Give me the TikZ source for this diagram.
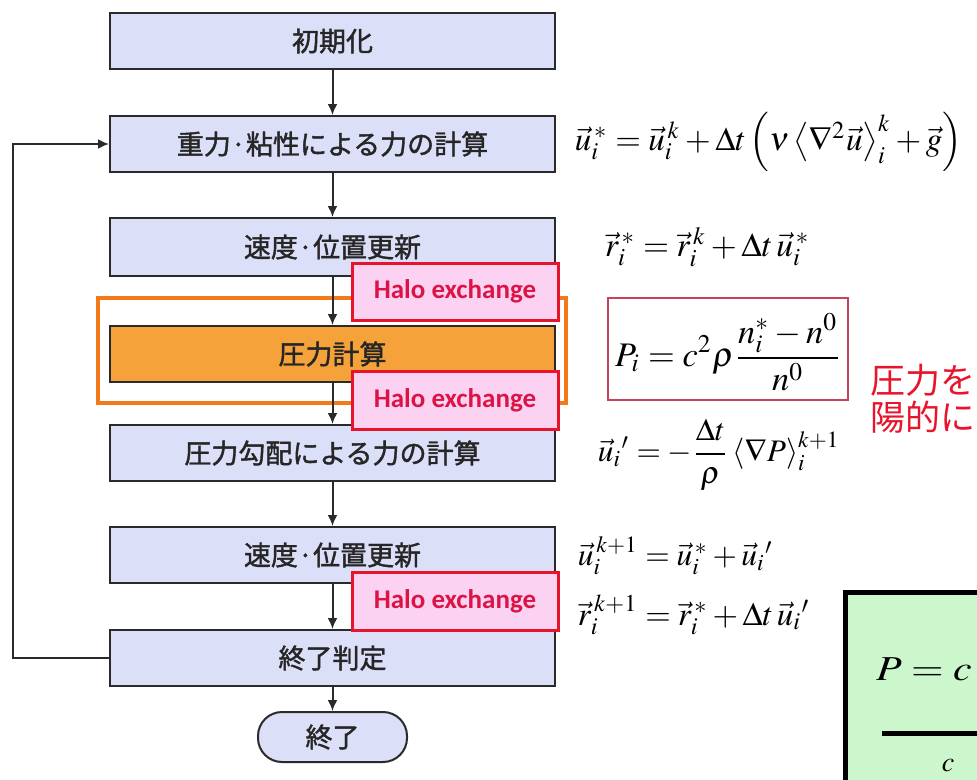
\documentclass[tikz,border=0pt]{standalone}
\usepackage{mathptmx}
\usepackage[no-math]{fontspec}
\usepackage{graphicx}
\usetikzlibrary{arrows.meta}
\newfontfamily\jpfont[FakeBold=1.5]{Noto Sans CJK JP}
\newfontfamily\jpred{Noto Sans CJK JP}
\newfontfamily\halofont[BoldFont=Carlito Bold]{Carlito}
\definecolor{boxfill}{HTML}{DCDFF8}
\definecolor{boxline}{HTML}{2A2A2A}
\definecolor{orfill}{HTML}{F6A23A}
\definecolor{orframe}{HTML}{F27A1A}
\definecolor{halofill}{HTML}{FBD2F2}
\definecolor{haloline}{HTML}{E8142C}
\definecolor{halotext}{HTML}{DC1446}
\definecolor{eqline}{HTML}{C8405A}
\definecolor{redtext}{HTML}{E8142C}
\definecolor{greenfill}{HTML}{CCF6CC}
\tikzset{
  flowbox/.style={draw=boxline, line width=2pt, fill=boxfill, minimum width=445pt, minimum height=56pt, inner sep=0pt, font=\jpfont\fontsize{27}{30}\selectfont, text=black!85},
  orbox/.style={flowbox, fill=orfill},
  halobox/.style={draw=haloline, line width=3pt, fill=halofill, minimum width=206pt, minimum height=57pt, inner sep=0pt, font=\halofont\bfseries\fontsize{27}{30}\selectfont, text=halotext},
  termbox/.style={draw=boxline, line width=2pt, fill=boxfill, minimum width=149pt, minimum height=50pt, rounded corners=24pt, inner sep=0pt, font=\jpfont\fontsize{27}{30}\selectfont, text=black!85},
  conn/.style={draw=boxline, line width=2pt, -{Latex[length=11pt,width=10pt]}},
  eq/.style={inner sep=0pt},
  redlbl/.style={inner sep=0pt, anchor=west, text=redtext, font=\jpred\fontsize{35}{38}\selectfont}
}
\begin{document}
\begin{tikzpicture}[x=1pt,y=-1pt]
\useasboundingbox (0,0) rectangle (977,779);
\clip (0,0) rectangle (977,779);
\fill[white] (0,0) rectangle (977,779);

% orange frame (behind)
\draw[orframe, line width=4.5pt] (98,298) rectangle (566,403);

% flow boxes
\node[flowbox] (b1) at (332.5,41) {初期化};
\node[flowbox] (b2) at (332.5,144) {重力·粘性による力の計算};
\node[flowbox, minimum height=58pt] (b3) at (332.5,247) {速度·位置更新};
\node[orbox] (b4) at (332.5,354) {圧力計算};
\node[flowbox] (b5) at (332.5,453) {圧力勾配による力の計算};
\node[flowbox] (b6) at (332.5,555) {速度·位置更新};
\node[flowbox] (b7) at (332.5,658) {終了判定};
\node[termbox] (t) at (332.5,737) {終了};

% connectors
\draw[conn] (b1) -- (b2);
\draw[conn] (b2) -- (b3);
\draw[conn] (b3) -- (b4);
\draw[conn] (b4) -- (b5);
\draw[conn] (b5) -- (b6);
\draw[conn] (b6) -- (b7);
\draw[conn] (b7) -- (t);
\coordinate (lp1) at (13,658);
\coordinate (lp2) at (13,144);
\draw[conn] (b7.west) -- (lp1) -- (lp2) -- (b2.west);

% halo exchange boxes
\node[halobox] (h1) at (455,291.5) {Halo exchange};
\node[halobox, minimum height=58pt] (h2) at (455,400) {Halo exchange};
\node[halobox, minimum height=58pt] (h3) at (455,601) {Halo exchange};

% equations
\node[eq] (e1) at (768.5,142) {\resizebox{387pt}{!}{$\vec{u}_i^{\,*}=\vec{u}_i^{\,k}+\Delta t\left(\nu\left\langle\nabla^2\vec{u}\right\rangle_i^k+\vec{g}\right)$}};
\node[eq] (e2) at (707.5,247) {\resizebox{205pt}{!}{$\vec{r}_i^{\,*}=\vec{r}_i^{\,k}+\Delta t\,\vec{u}_i^{\,*}$}};
\draw[eqline, line width=1.3pt] (608,298) rectangle (848,400);
\node[eq] (e3) at (728.5,352) {\resizebox{227pt}{!}{$\displaystyle P_i=c^2\rho\frac{n_i^*-n^0}{n^0}$}};
\node[eq] (e4) at (719,455) {\resizebox{242pt}{!}{$\displaystyle \vec{u}_i{}'=-\frac{\Delta t}{\rho}\left\langle\nabla P\right\rangle_i^{k+1}$}};
\node[eq] (e5) at (675.5,556) {\resizebox{195pt}{!}{$\vec{u}_i^{\,k+1}=\vec{u}_i^{\,*}+\vec{u}_i{}'$}};
\node[eq] (e6) at (694,615) {\resizebox{232pt}{!}{$\vec{r}_i^{\,k+1}=\vec{r}_i^{\,*}+\Delta t\,\vec{u}_i{}'$}};

% red note
\node[redlbl] (r1) at (870,380) {圧力を};
\node[redlbl] (r2) at (870,417) {陽的に};

% green box (cut off at right)
\draw[black, line width=5pt, fill=greenfill] (845,592) rectangle (1000,820);
\node[inner sep=0pt, anchor=base west] (gp) at (876,680) {\scalebox{1.2}[1]{\fontsize{35}{37}\selectfont $P=c$}};
\coordinate (gl1) at (882,733);
\coordinate (gl2) at (1000,733);
\draw[black, line width=5pt] (gl1) -- (gl2);
\node[inner sep=0pt] (gc) at (948,766) {\fontsize{28}{30}\selectfont $c$};
\end{tikzpicture}
\end{document}
